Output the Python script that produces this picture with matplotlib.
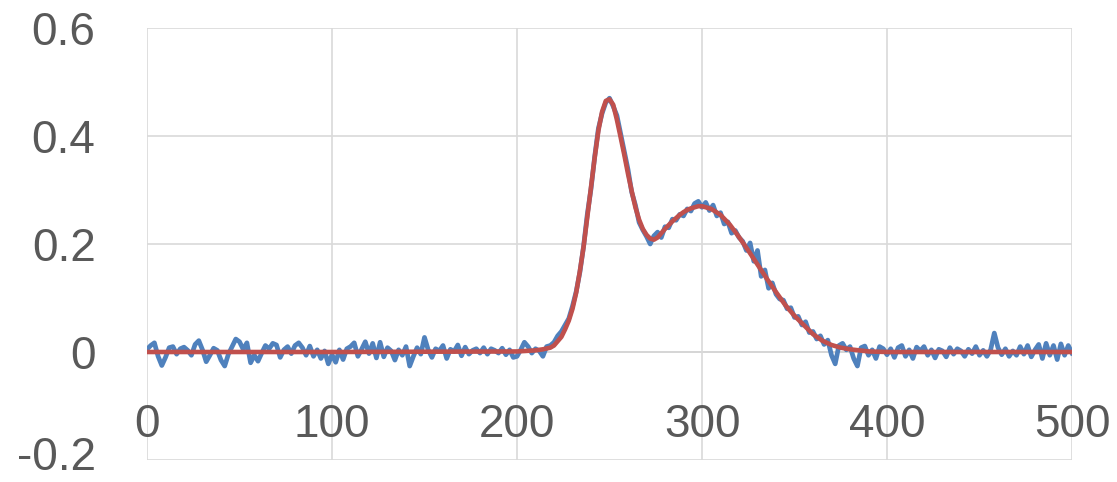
import matplotlib.pyplot as plt
import matplotlib.transforms as mtransforms
import numpy as np

blue_x = np.arange(0, 501, 2)
blue_y = [
    0.005, 0.012, 0.017, -0.008, -0.025, -0.010, 0.008, 0.010, -0.004, 0.006,
    0.009, 0.003, -0.006, 0.014, 0.021, 0.004, -0.018, -0.006, 0.007, 0.003,
    -0.015, -0.026, -0.004, 0.010, 0.024, 0.019, 0.005, 0.017, -0.020, -0.006,
    -0.017, -0.002, 0.012, 0.006, 0.016, 0.013, -0.010, 0.004, 0.010, -0.003,
    0.012, 0.017, 0.008, -0.006, 0.011, -0.008, 0.004, -0.012, 0.002, -0.022,
    -0.005, -0.019, 0.004, -0.014, 0.006, 0.010, 0.017, -0.008, 0.005, 0.019,
    -0.003, 0.016, -0.011, 0.018, -0.009, 0.008, 0.002, -0.015, 0.004, -0.006,
    0.010, -0.026, -0.008, 0.008, -0.004, 0.027, 0.004, -0.010, 0.006, 0.002,
    0.012, -0.012, 0.005, 0.001, 0.013, -0.007, 0.009, -0.004, 0.003, 0.006,
    -0.002, 0.008, -0.004, 0.006, 0.003, -0.002, 0.007, -0.005, 0.004, -0.010,
    -0.008, 0.004, 0.018, 0.010, -0.002, 0.006, 0.002, -0.008, 0.010, 0.012,
    0.018, 0.030, 0.038, 0.050, 0.062, 0.085, 0.112, 0.148, 0.196, 0.255,
    0.302, 0.362, 0.414, 0.442, 0.462, 0.470, 0.455, 0.438, 0.405, 0.372,
    0.338, 0.296, 0.272, 0.240, 0.226, 0.214, 0.200, 0.215, 0.222, 0.212,
    0.232, 0.230, 0.246, 0.244, 0.255, 0.252, 0.265, 0.261, 0.275, 0.279,
    0.268, 0.277, 0.262, 0.272, 0.252, 0.258, 0.237, 0.241, 0.220, 0.225,
    0.212, 0.205, 0.188, 0.202, 0.168, 0.188, 0.140, 0.152, 0.118, 0.128,
    0.107, 0.098, 0.096, 0.080, 0.082, 0.064, 0.066, 0.050, 0.056, 0.036,
    0.038, 0.024, 0.030, 0.014, 0.022, -0.006, -0.022, 0.012, 0.016, 0.004,
    0.010, -0.012, -0.026, 0.008, 0.011, -0.006, 0.004, -0.012, 0.010, 0.006,
    -0.005, 0.006, -0.010, 0.008, 0.012, -0.008, 0.004, -0.012, 0.009, 0.002,
    0.010, -0.006, 0.004, -0.011, 0.005, 0.002, -0.009, 0.008, -0.004, 0.006,
    0.002, -0.008, 0.005, -0.003, 0.010, -0.006, 0.003, -0.008, 0.004, 0.035,
    0.008, -0.005, 0.006, -0.008, 0.002, -0.006, 0.010, -0.004, 0.012, -0.009,
    0.004, 0.014, -0.012, 0.016, -0.006, 0.012, -0.014, 0.015, -0.006, 0.012,
    -0.002,
]

# fitted curve (red)
red_x = [0, 100, 200, 205, 210, 214, 218,
         220, 222, 224, 226, 228, 230, 232, 234, 236, 238,
         240, 242, 244, 246, 248, 250, 252, 254, 256, 258,
         260, 262, 264, 266, 268, 270, 272, 274, 276, 278,
         280, 282, 284, 286, 288, 290, 292, 294, 296, 298, 300,
         305, 310, 315, 320, 325, 330, 335, 340, 345, 350,
         355, 360, 365, 370, 375, 380, 385, 390, 400, 450, 500]
red_y = [0.0, 0.0, 0.001, 0.002, 0.003, 0.005, 0.008,
         0.012, 0.020, 0.028, 0.042, 0.058, 0.080, 0.110, 0.150, 0.195, 0.250,
         0.305, 0.360, 0.410, 0.445, 0.465, 0.468, 0.458, 0.430, 0.398, 0.365,
         0.330, 0.298, 0.268, 0.245, 0.228, 0.217, 0.210, 0.208, 0.212, 0.220,
         0.228, 0.235, 0.242, 0.248, 0.254, 0.259, 0.263, 0.266, 0.268, 0.270, 0.270,
         0.265, 0.254, 0.236, 0.213, 0.188, 0.162, 0.136, 0.111, 0.087, 0.067,
         0.050, 0.033, 0.021, 0.013, 0.008, 0.005, 0.003, 0.001, 0.0, 0.0, 0.0]

x_ticks = [0, 100, 200, 300, 400, 500]
y_ticks = [-0.2, 0, 0.2, 0.4, 0.6]
y_labels = ['-0.2', '0', '0.2', '0.4', '0.6']

plt.rcParams['font.family'] = ['Liberation Sans', 'DejaVu Sans']

fig = plt.figure(figsize=(11.17, 4.82), dpi=100)
ax = fig.add_axes([147 / 1117, 22 / 482, 925 / 1117, 432 / 482])

ax.plot(blue_x, blue_y, color='#4f81bd', lw=3.4, solid_joinstyle='round', zorder=3)
ax.plot(red_x, red_y, color='#c0504d', lw=3.3, solid_joinstyle='round', zorder=4)

ax.set_xlim(0, 500)
ax.set_ylim(-0.2, 0.6)
ax.set_xticks(x_ticks)
ax.set_xticklabels([str(t) for t in x_ticks])
ax.set_yticks(y_ticks)
ax.set_yticklabels(y_labels)

ax.grid(True, color='#d9d9d9', lw=1.2)
ax.axhline(0, color='#bfbfbf', lw=1.2, zorder=1)
for s in ax.spines.values():
    s.set_visible(False)

ax.tick_params(axis='both', length=0, labelsize=33, labelcolor='#595959')
ax.tick_params(axis='x', pad=-41)
ax.tick_params(axis='y', pad=37)

# nudge the bottom y label up a little so it stays inside the canvas
lbl = ax.get_yticklabels()[0]
lbl.set_transform(lbl.get_transform() + mtransforms.ScaledTranslation(0, 5 / 72, fig.dpi_scale_trans))

fig.savefig('out.png', dpi=100)
